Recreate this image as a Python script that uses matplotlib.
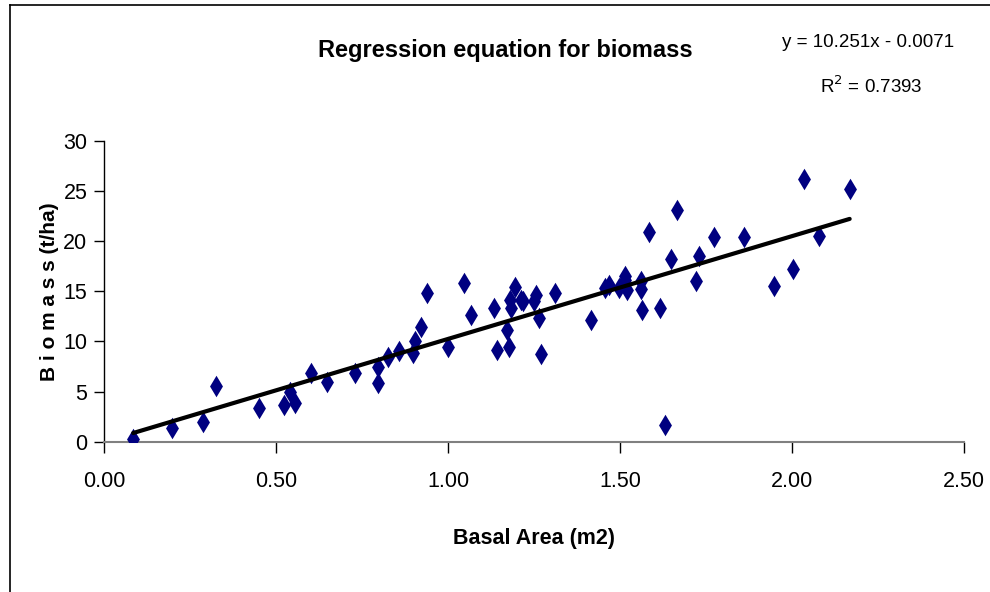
import matplotlib
matplotlib.use('Agg')
import matplotlib.pyplot as plt
import numpy as np
from matplotlib.lines import Line2D

matplotlib.rcParams['font.family'] = ['Liberation Sans Narrow', 'Liberation Sans', 'DejaVu Sans']

# basal area (m2) and biomass (t/ha)
basal_area = [0.085, 0.199, 0.287, 0.325, 0.452, 0.522, 0.541, 0.555, 0.602, 0.648,
              0.729, 0.796, 0.797, 0.824, 0.857, 0.899, 0.903, 0.921, 0.940, 1.001,
              1.045, 1.068, 1.134, 1.142, 1.171, 1.176, 1.180, 1.184, 1.194, 1.211,
              1.217, 1.250, 1.256, 1.264, 1.270, 1.312, 1.415, 1.457, 1.467, 1.496,
              1.514, 1.514, 1.520, 1.560, 1.560, 1.564, 1.584, 1.616, 1.631, 1.649,
              1.664, 1.721, 1.730, 1.772, 1.861, 1.946, 2.002, 2.035, 2.077, 2.167]
biomass = [0.24, 1.40, 1.93, 5.58, 3.39, 3.62, 4.99, 3.89, 6.85, 5.95,
           6.88, 5.82, 7.42, 8.48, 9.04, 8.87, 10.07, 11.41, 14.83, 9.41,
           15.79, 12.66, 13.36, 9.17, 11.14, 9.44, 14.13, 13.36, 15.39, 14.13,
           14.06, 14.06, 14.66, 12.30, 8.74, 14.83, 12.13, 15.32, 15.65, 15.32,
           16.55, 16.12, 15.12, 15.99, 15.19, 13.10, 20.94, 13.36, 1.70, 18.22,
           23.07, 16.02, 18.55, 20.41, 20.41, 15.52, 17.25, 26.19, 20.54, 25.22]

slope = 10.251
intercept = -0.0071
r2 = 0.7393

x_ticks = [0.0, 0.5, 1.0, 1.5, 2.0, 2.5]
y_ticks = [0, 5, 10, 15, 20, 25, 30]

fig = plt.figure(figsize=(9.9, 5.92), dpi=100)
ax = fig.add_axes([0.105, 0.2539, 0.869, 0.5084])

ax.scatter(basal_area, biomass, marker='d', s=120, color='#000080', zorder=3, linewidths=0)

xfit = np.array([min(basal_area), max(basal_area)])
ax.plot(xfit, slope * xfit + intercept, color='black', linewidth=3.0, solid_capstyle='round', zorder=4)

ax.set_xlim(0, 2.5)
ax.set_ylim(0, 30)
ax.set_xticks(x_ticks)
ax.set_xticklabels(['%.2f' % v for v in x_ticks])
ax.set_yticks(y_ticks)
ax.spines['right'].set_visible(False)
ax.spines['top'].set_visible(False)
ax.spines['bottom'].set_color('#808080')
ax.spines['bottom'].set_linewidth(1.5)
ax.spines['left'].set_linewidth(1.0)
ax.tick_params(axis='x', direction='out', length=8, width=1, labelsize=15.5, pad=13)
ax.tick_params(axis='y', direction='out', length=7, width=1, labelsize=15.5, pad=5)

ax.set_xlabel('Basal Area (m2)', fontsize=15.5, fontweight='bold', labelpad=26)
ax.set_ylabel('B i o m a s s (t/ha)', fontsize=15, fontweight='bold', labelpad=3)

fig.text(0.51, 0.915, 'Regression equation for biomass', fontsize=17, fontweight='bold',
         ha='center', va='center')
fig.text(0.877, 0.928, 'y = 10.251x - 0.0071', fontsize=13.5, ha='center', va='center')
fig.text(0.880, 0.855, 'R$^2$ = %.4f' % r2, fontsize=13.5, ha='center', va='center')

# chart area border (left and top edges visible)
fig.add_artist(Line2D([0.0101, 0.0101], [0.0, 0.991], color='black', linewidth=1.2))
fig.add_artist(Line2D([0.0101, 1.0], [0.991, 0.991], color='black', linewidth=1.2))

plt.savefig('out.png', dpi=100)
